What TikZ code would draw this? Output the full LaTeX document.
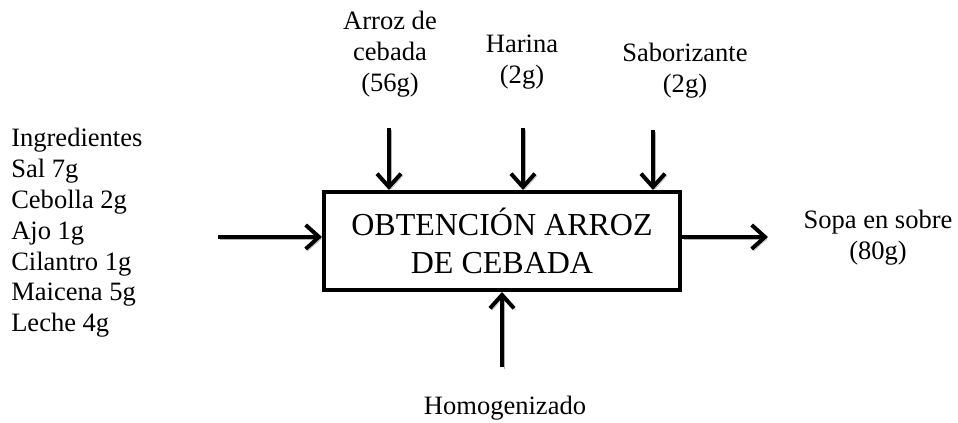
\documentclass[tikz,border=0pt]{standalone}
\usepackage{fontspec}
\setmainfont{Liberation Serif}
\newfontfamily\timesfont{Liberation Serif}
\usetikzlibrary{arrows.meta}

\begin{document}
\begin{tikzpicture}[
    x=0.75pt, y=-0.75pt,
    flow/.style={line width=3pt, -{Straight Barb[length=10pt, width=18pt]},
        preaction={draw=gray!60, transform canvas={shift={(1.5pt,-1.5pt)}}}},
    process/.style={rectangle, draw, line width=3pt, minimum width=267pt,
        minimum height=73.5pt, align=center, inner sep=0pt,
        font=\timesfont\fontsize{24pt}{28.5pt}\selectfont},
    tag/.style={align=center, inner sep=0pt,
        font=\timesfont\fontsize{19.9pt}{23.1pt}\selectfont}
]
\useasboundingbox (0,0) rectangle (958,423);

\node (Proceso) [process] at (502,241) {OBTENCIÓN ARROZ\\DE CEBADA};

\node (Ingredientes) [tag, align=left, anchor=west] at (11,233)
  {Ingredientes\\Sal 7g\\Cebolla 2g\\Ajo 1g\\Cilantro 1g\\Maicena 5g\\Leche 4g};
\node (Arroz) [tag] at (390,54) {Arroz de\\cebada\\(56g)};
\node (Harina) [tag] at (522,62) {Harina\\(2g)};
\node (Saborizante) [tag] at (685,71) {Saborizante\\(2g)};
\node (Sopa) [tag] at (878,238) {Sopa en sobre\\(80g)};
\node (Homogenizado) [tag] at (505,408) {Homogenizado};

\coordinate (InArroz) at (389,128);
\coordinate (InHarina) at (523,128);
\coordinate (InSabor) at (653,130);
\coordinate (InIngr) at (218,237);
\coordinate (InHomog) at (502,367);
\coordinate (OutSopa) at (768,237);

\draw[flow] (InArroz) -- (InArroz |- Proceso.north);
\draw[flow] (InHarina) -- (InHarina |- Proceso.north);
\draw[flow] (InSabor) -- (InSabor |- Proceso.north);
\draw[flow] (InIngr) -- (InIngr -| Proceso.west);
\draw[flow] (InHomog) -- (Proceso.south);
\draw[flow] (OutSopa -| Proceso.east) -- (OutSopa);

\end{tikzpicture}
\end{document}
